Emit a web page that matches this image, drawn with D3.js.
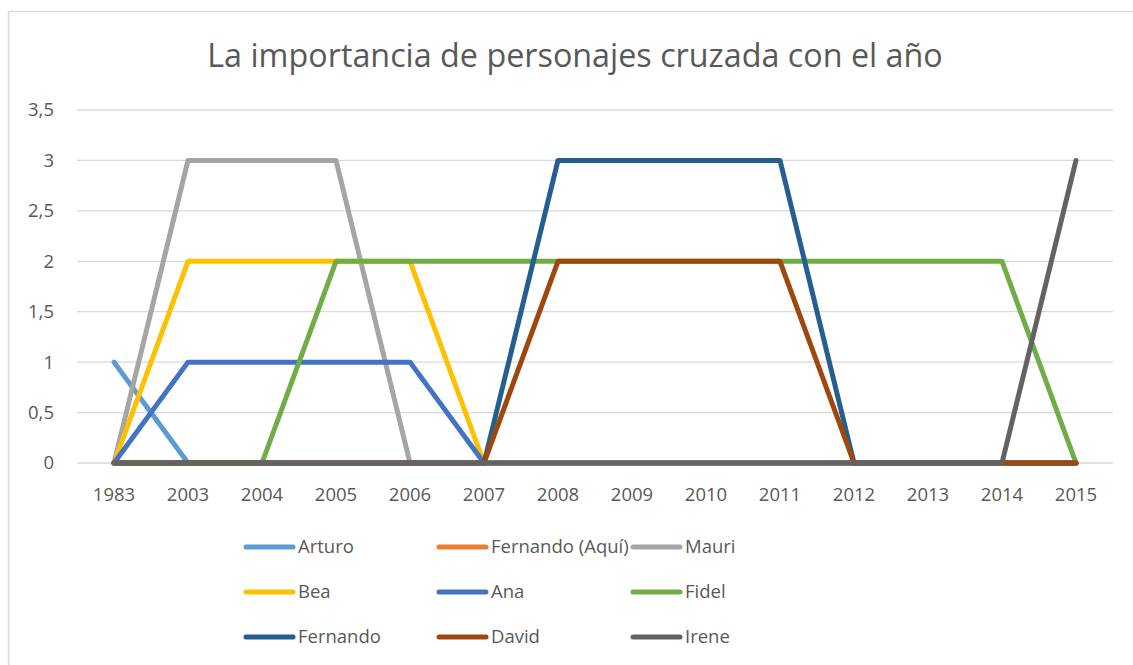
<!DOCTYPE html>
<html>
<head>
<meta charset="utf-8">
<script src="https://cdn.jsdelivr.net/npm/d3@7"></script>
<style>
  body { margin: 0; background: #fff; }
  svg { display: block; font-family: "Open Sans", "Noto Sans", sans-serif; }
</style>
</head>
<body>
<div id="chart"></div>
<script>
// categories on the x axis
const years = ["1983", "2003", "2004", "2005", "2006", "2007", "2008", "2009", "2010", "2011", "2012", "2013", "2014", "2015"];
const yTicks = [0, 0.5, 1, 1.5, 2, 2.5, 3, 3.5];

// one array per character, in legend / drawing order
const arturo    = [1, 0, 0, 0, 0, 0, 0, 0, 0, 0, 0, 0, 0, 0];
const fernAqui  = [0, 0, 0, 0, 0, 0, 0, 0, 0, 0, 0, 0, 0, 0];
const mauri     = [0, 3, 3, 3, 0, 0, 0, 0, 0, 0, 0, 0, 0, 0];
const bea       = [0, 2, 2, 2, 2, 0, 0, 0, 0, 0, 0, 0, 0, 0];
const ana       = [0, 1, 1, 1, 1, 0, 0, 0, 0, 0, 0, 0, 0, 0];
const fidel     = [0, 0, 0, 2, 2, 2, 2, 2, 2, 2, 2, 2, 2, 0];
const fernando  = [0, 0, 0, 0, 0, 0, 3, 3, 3, 3, 0, 0, 0, 0];
const david     = [0, 0, 0, 0, 0, 0, 2, 2, 2, 2, 0, 0, 0, 0];
const irene     = [0, 0, 0, 0, 0, 0, 0, 0, 0, 0, 0, 0, 0, 3];

const seriesNames = ["Arturo", "Fernando (Aquí)", "Mauri", "Bea", "Ana", "Fidel", "Fernando", "David", "Irene"];
const seriesValues = [arturo, fernAqui, mauri, bea, ana, fidel, fernando, david, irene];
const colors = ["#5B9BD5", "#ED7D31", "#A5A5A5", "#FFC000", "#4472C4", "#70AD47", "#255E91", "#9E480E", "#636363"];

const width = 1133, height = 665;
const margin = {left: 77, right: 20, top: 110, bottom: 202};

const svg = d3.select("#chart").append("svg")
    .attr("width", width)
    .attr("height", height);

// chart frame
svg.append("rect")
    .attr("x", 8.5).attr("y", 11.5)
    .attr("width", 1140).attr("height", 700)
    .attr("fill", "#fff")
    .attr("stroke", "#d9d9d9")
    .attr("stroke-width", 1.5);

svg.append("text")
    .attr("x", 575).attr("y", 67)
    .attr("text-anchor", "middle")
    .attr("fill", "#595959")
    .attr("font-size", 32.3)
    .text("La importancia de personajes cruzada con el año");

let x = d3.scaleBand()
    .domain(years)
    .range([margin.left, width - margin.right]);

let y = d3.scaleLinear()
    .domain([0, 3.5])
    .range([height - margin.bottom, margin.top]);

// gridlines
svg.append("g")
    .selectAll("line")
    .data(yTicks)
    .join("line")
    .attr("x1", margin.left)
    .attr("x2", width - margin.right)
    .attr("y1", d => y(d))
    .attr("y2", d => y(d))
    .attr("stroke", "#d9d9d9")
    .attr("stroke-width", 1.3);

let fmt = d => String(d).replace(".", ",");

let yAxis = svg.append("g")
    .attr("transform", `translate(${margin.left - 20},0)`)
    .call(d3.axisLeft(y).tickValues(yTicks).tickFormat(fmt).tickSize(0));
yAxis.select(".domain").remove();
yAxis.selectAll("text")
    .attr("fill", "#595959")
    .attr("font-size", 18.5)
    .attr("font-family", "Open Sans, sans-serif");

let xAxis = svg.append("g")
    .attr("transform", `translate(0,${height - margin.bottom + 22})`)
    .call(d3.axisBottom(x).tickSize(0));
xAxis.select(".domain").remove();
xAxis.selectAll("text")
    .attr("fill", "#595959")
    .attr("font-size", 18.5)
    .attr("font-family", "Open Sans, sans-serif");

let line = d3.line()
    .x((d, i) => x(years[i]) + x.bandwidth() / 2)
    .y(d => y(d));

svg.append("g")
    .selectAll("path")
    .data(seriesValues)
    .join("path")
    .attr("d", d => line(d))
    .attr("fill", "none")
    .attr("stroke", (d, i) => colors[i])
    .attr("stroke-width", 5)
    .attr("stroke-linejoin", "round")
    .attr("stroke-linecap", "round");

// legend, three columns
const legCols = [246, 439, 633];
const legRows = [547, 592, 637];

let leg = svg.append("g")
    .selectAll("g")
    .data(seriesNames)
    .join("g")
    .attr("transform", (d, i) => `translate(${legCols[i % 3]},${legRows[Math.floor(i / 3)]})`);

leg.append("line")
    .attr("x1", 0).attr("x2", 47)
    .attr("stroke", (d, i) => colors[i])
    .attr("stroke-width", 5)
    .attr("stroke-linecap", "round");

leg.append("text")
    .attr("x", 52)
    .attr("dy", "0.35em")
    .attr("fill", "#595959")
    .attr("font-size", 18.5)
    .text(d => d);
</script>
</body>
</html>
